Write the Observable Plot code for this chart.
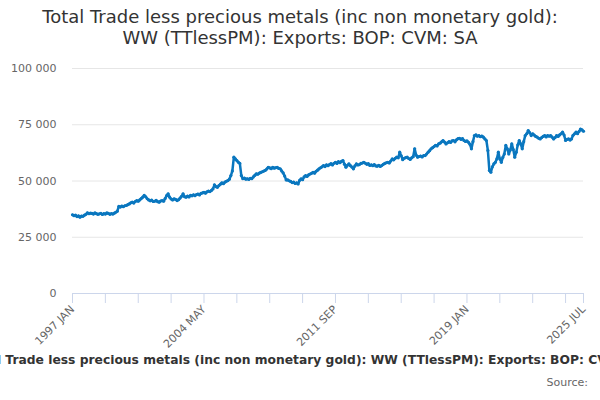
<!DOCTYPE html>
<html>
<head>
<meta charset="utf-8">
<script src="https://cdn.jsdelivr.net/npm/d3@7"></script>
<script src="https://cdn.jsdelivr.net/npm/@observablehq/plot@0.6"></script>
<style>
  html, body { margin: 0; padding: 0; background: #fff; }
  #wrap { position: relative; width: 600px; height: 400px; overflow: hidden; font-family: "DejaVu Sans", sans-serif; }
  #title { position: absolute; top: 6px; left: 0; width: 600px; text-align: center; font-size: 18px; line-height: 21px; color: #333; }
  #chart { position: absolute; top: 0; left: 0; }
  #caption { position: absolute; top: 353px; left: -300px; width: 1214px; text-align: center; font-size: 12.3px; font-weight: bold; color: #333; white-space: nowrap; }
  #source { position: absolute; top: 376px; right: 12px; font-size: 11px; color: #666; }
</style>
</head>
<body>
<div id="wrap">
  <div id="title">Total Trade less precious metals (inc non monetary gold):<br>WW (TTlessPM): Exports: BOP: CVM: SA</div>
  <div id="chart"></div>
  <div id="caption">Total Trade less precious metals (inc non monetary gold): WW (TTlessPM): Exports: BOP: CVM: SA</div>
  <div id="source">Source:</div>
</div>
<script>
const startYear = 1997;
const monthNames = ["JAN","FEB","MAR","APR","MAY","JUN","JUL","AUG","SEP","OCT","NOV","DEC"];

const values1997_2001 = [
  35000, 34600, 34800, 34200, 34500, 33900, 34400, 34300, 34800, 35200, 35900, 35500,
  35700, 35600, 35300, 35800, 35500, 35200, 35400, 35600, 35100, 35500, 35300, 35800,
  35600, 35200, 35500, 35300, 35700, 36100, 36600, 38700, 38400, 38900, 38600, 39000,
  39100, 39500, 39800, 40300, 40600, 40200, 40900, 41300, 41000, 41600, 42200, 42800,
  43600, 43000, 42100, 41600, 41200, 41500, 40900, 41000, 41400, 40800, 40600, 41100
];
const values2002_2006 = [
  41300, 41000, 42200, 43500, 44300, 42800, 42000, 41600, 42100, 41800, 41300, 41700,
  42400, 43200, 44300, 43000, 42800, 43300, 42900, 43600, 43400, 43900, 43500, 44000,
  44200, 43800, 44500, 44700, 45000, 44600, 45200, 45500, 45300, 45800, 46500, 48300,
  47500, 47200, 48000, 48600, 49200, 48800, 49500, 49900, 50200, 50800, 52400, 54500,
  60600, 59800, 59100, 58300, 57800, 52400, 51000, 51300, 50800, 51000, 50700, 51200
];
const values2007_2011 = [
  51000, 51800, 52500, 53200, 53000, 53500, 53800, 54100, 54400, 54700, 55300, 56100,
  55800, 55500, 56100, 55700, 55900, 56100, 55600, 55400, 54500, 53600, 52200, 50500,
  50500, 50100, 49800, 49300, 49500, 48900, 49200, 48700, 50300, 51000, 50600, 51800,
  52400, 52000, 52700, 53100, 53400, 53900, 53500, 54300, 54800, 55400, 55900, 56300,
  56900, 56400, 57200, 56800, 57300, 57700, 57100, 57900, 58300, 57800, 58600, 58100
];
const values2012_2016 = [
  58700, 59100, 57500, 56100, 57000, 57600, 56800, 56200, 55400, 56700, 57600, 57100,
  57300, 57800, 58000, 58300, 57900, 57400, 57700, 56900, 57200, 56800, 57300, 56700,
  56600, 57000, 56500, 56900, 57400, 57800, 58100, 58300, 58000, 58900, 59800, 59400,
  60100, 60600, 60300, 62800, 61200, 59500, 60100, 60400, 60600, 60000, 59600, 60300,
  60800, 64300, 61500, 60600, 60900, 61100, 60700, 61300, 61300, 62000, 62800, 63500
];
const values2017_2021 = [
  64300, 64800, 65300, 65900, 65600, 66500, 66800, 67400, 68000, 67300, 66500, 67000,
  67500, 67100, 67800, 68000, 67400, 68300, 68800, 69000, 68500, 68900, 68000, 67600,
  67800, 67200, 66300, 64300, 67500, 70200, 70500, 69900, 70200, 69700, 70000, 69500,
  68700, 68000, 63600, 54700, 53900, 56300, 57600, 58300, 59800, 62800, 59800, 58300,
  60500, 62000, 65800, 64300, 62000, 63800, 66500, 64000, 60600, 62800, 66000, 68000
];
const values2022_2025 = [
  66500, 64300, 67500, 70200, 71000, 72400, 71500, 70200, 71000, 70400, 69800, 69500,
  69000, 68700, 69300, 69800, 70200, 69600, 70200, 69900, 70200, 69500, 68700, 69300,
  70200, 69800, 70500, 71000, 71700, 70400, 68000, 68500, 68700, 68200, 68700, 70300,
  71000, 71700, 71000, 72000, 73100, 72700, 72100
];

const yTicks = [0, 25000, 50000, 75000, 100000];
const xTickEvery = 22;
const xLabelEvery = 88;

const values = [...values1997_2001, ...values2002_2006, ...values2007_2011,
                ...values2012_2016, ...values2017_2021, ...values2022_2025];
const months = values.map((_, i) => `${startYear + Math.floor(i / 12)} ${monthNames[i % 12]}`);
const data = values.map((v, i) => ({month: months[i], value: v}));

const last = months.length - 1;
const tickIdx = d3.range(0, months.length, xTickEvery);
if (tickIdx[tickIdx.length - 1] !== last) tickIdx.push(last);
const tickMonths = tickIdx.map(i => months[i]);
const labelSet = new Set(tickIdx.filter(i => i % xLabelEvery === 0 || i === last).map(i => months[i]));

const fmt = v => d3.format(",")(v).replace(/,/g, " ");
const lineColor = "#0a77bf";

const chart = Plot.plot({
  width: 600,
  height: 400,
  marginLeft: 72,
  marginRight: 17,
  marginTop: 68,
  marginBottom: 107,
  style: {fontFamily: "DejaVu Sans, sans-serif", fontSize: "11px", background: "transparent", overflow: "visible"},
  x: {type: "point", domain: months, padding: 0},
  y: {domain: [0, 100000]},
  marks: [
    Plot.gridY(yTicks, {stroke: "#e6e6e6", strokeOpacity: 1, strokeWidth: 1}),
    Plot.axisY(yTicks, {tickSize: 0, tickPadding: 16, tickFormat: fmt, fill: "#666", fontSize: 11, label: null}),
    Plot.ruleY([0], {stroke: "#ccd6eb", strokeWidth: 1}),
    Plot.axisX(tickMonths, {tickSize: 10, stroke: "#ccd6eb", strokeOpacity: 1, tickPadding: 4, tickRotate: -45,
      tickFormat: d => labelSet.has(d) ? d : "", fill: "#666", fontSize: 11, label: null}),
    Plot.line(data, {x: "month", y: "value", stroke: lineColor, strokeWidth: 2.5, strokeLinejoin: "round"}),
    Plot.dot(data, {x: "month", y: "value", r: 1.6, fill: lineColor, stroke: "none"})
  ]
});
document.getElementById("chart").appendChild(chart);
</script>
</body>
</html>
